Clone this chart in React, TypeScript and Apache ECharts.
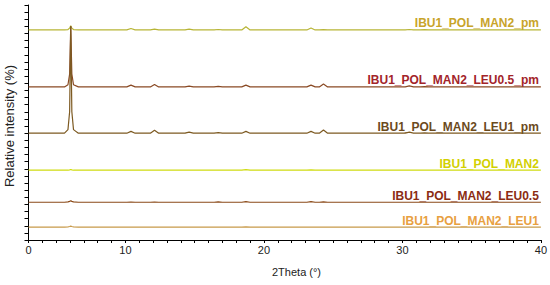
import React, { useEffect, useRef } from "react";
import * as echarts from "echarts";

// 2Theta positions (degrees)
const twoTheta = [3, 5.6, 5.85, 5.97, 6.05, 6.13, 6.25, 6.6, 10.1, 10.4, 10.7, 11.8, 12.1, 12.4, 14.3, 14.6, 14.9, 16.4, 16.7, 17.0, 18.4, 18.7, 19.0, 23.1, 23.4, 23.7, 24.0, 24.3, 24.6, 30.2, 30.5, 30.8, 31.3, 31.6, 31.9, 40];

const seriesNames = [
  "IBU1_POL_MAN2_pm",
  "IBU1_POL_MAN2_LEU0.5_pm",
  "IBU1_POL_MAN2_LEU1_pm",
  "IBU1_POL_MAN2",
  "IBU1_POL_MAN2_LEU0.5",
  "IBU1_POL_MAN2_LEU1",
];

// vertical offsets of each stacked pattern
const offsets = [29.5, 21.5, 15.0, 9.8, 5.3, 1.8];

const man2Pm = [0, 0, 0.05, 0.25, 0.6, 0.25, 0.05, 0, 0, 0.2, 0, 0, 0.12, 0, 0, 0.1, 0, 0, 0.06, 0, 0, 0.45, 0, 0, 0.28, 0, 0, 0.05, 0, 0, 0.06, 0, 0, 0.03, 0, 0];
const leu05Pm = [0, 0, 0.3, 1.8, 8.5, 1.8, 0.3, 0, 0, 0.25, 0, 0, 0.35, 0, 0, 0.12, 0, 0, 0.08, 0, 0, 0.25, 0, 0, 0.25, 0, 0, 0.4, 0, 0, 0.15, 0, 0, 0.05, 0, 0];
const leu1Pm = [0, 0, 0.5, 3.0, 15.0, 3.0, 0.5, 0, 0, 0.25, 0, 0, 0.4, 0, 0, 0.15, 0, 0, 0.08, 0, 0, 0.25, 0, 0, 0.25, 0, 0, 0.45, 0, 0, 0.15, 0, 0, 0.05, 0, 0];
const man2 = [0, 0, 0, 0.05, 0.1, 0.05, 0, 0, 0, 0.03, 0, 0, 0.03, 0, 0, 0, 0, 0, 0, 0, 0, 0.08, 0, 0, 0.04, 0, 0, 0.03, 0, 0, 0, 0, 0, 0, 0, 0];
const leu05 = [0, 0, 0.05, 0.12, 0.2, 0.12, 0.05, 0, 0, 0.03, 0, 0, 0.03, 0, 0, 0, 0, 0, 0.05, 0, 0, 0.08, 0, 0, 0.08, 0, 0, 0.06, 0, 0, 0, 0, 0, 0, 0, 0];
const leu1 = [0, 0, 0.05, 0.1, 0.15, 0.1, 0.05, 0, 0, 0, 0, 0, 0, 0, 0, 0, 0, 0, 0, 0, 0, 0.03, 0, 0, 0, 0, 0, 0, 0, 0, 0, 0, 0, 0, 0, 0];

const intensities = [man2Pm, leu05Pm, leu1Pm, man2, leu05, leu1];

const lineColors = ["#b8b536", "#8a4a24", "#7d5a22", "#cfdc10", "#8b4a18", "#c89a4a"];
const labelColors = ["#c8a42a", "#a3242a", "#6b4a1c", "#d2d000", "#8b2c12", "#e8a040"];

const xTickLabels: Record<number, string> = { 3: "0", 10: "10", 20: "20", 30: "30", 40: "40" };

export default function App() {
  const ref = useRef<HTMLDivElement>(null);
  useEffect(() => {
    if (!ref.current) return;
    const chart = echarts.init(ref.current, null, { renderer: "svg" });
    const font = "Liberation Sans, Arial, sans-serif";
    const series = seriesNames.map((name, s) => ({
      name,
      type: "line",
      data: twoTheta.map((t, i) => [t, offsets[s] + intensities[s][i]]),
      showSymbol: false,
      symbol: "none",
      lineStyle: { color: lineColors[s], width: 1.2 },
      silent: true,
    }));
    chart.setOption({
      animation: false,
      grid: { left: 28.5, right: 6, top: 5, bottom: 45, containLabel: false },
      xAxis: {
        type: "value",
        min: 3,
        max: 40,
        interval: 1,
        axisLine: { lineStyle: { color: "#000", width: 1 } },
        axisTick: { show: true, inside: false, length: 3, lineStyle: { color: "#000" } },
        axisLabel: {
          interval: 0,
          showMinLabel: true,
          showMaxLabel: true,
          margin: 4,
          fontSize: 11,
          color: "#222",
          fontFamily: font,
          formatter: (v: number) => xTickLabels[Math.round(v)] ?? "",
        },
        splitLine: { show: false },
      },
      yAxis: {
        type: "value",
        min: 0,
        max: 33,
        interval: 1,
        axisLine: { show: true, lineStyle: { color: "#000", width: 1 } },
        axisTick: { show: true, inside: false, length: 4, lineStyle: { color: "#000" } },
        axisLabel: { show: false },
        splitLine: { show: false },
      },
      series,
    });
    const graphics: any[] = seriesNames.map((name, s) => {
      const p = chart.convertToPixel({ gridIndex: 0 }, [40, offsets[s]]) as number[];
      return {
        type: "text",
        x: p[0] - 2,
        y: p[1] - 6.5,
        style: {
          text: name,
          fill: labelColors[s],
          font: `bold 12px ${font}`,
          align: "right",
          verticalAlign: "middle",
        },
      };
    });
    graphics.push({
      type: "text",
      x: 272,
      y: 272,
      style: { text: "2Theta (°)", fill: "#222", font: `11px ${font}`, align: "left", verticalAlign: "middle" },
    });
    graphics.push({
      type: "text",
      x: 9,
      y: 126,
      rotation: Math.PI / 2,
      style: { text: "Relative intensity (%)", fill: "#222", font: `13px ${font}`, align: "center", verticalAlign: "middle" },
    });
    chart.setOption({ graphic: graphics });
    return () => chart.dispose();
  }, []);
  return <div ref={ref} style={{ width: 550, height: 285, position: "absolute", left: 0, top: 0 }} />;
}
